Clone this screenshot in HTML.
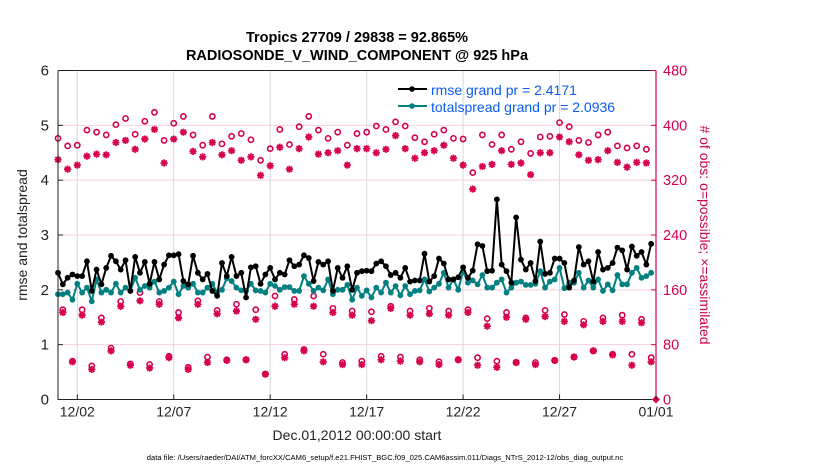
<!DOCTYPE html>
<html><head><meta charset="utf-8">
<style>
html,body{margin:0;padding:0;background:#fff;}
svg{display:block;font-family:"Liberation Sans",Arial,sans-serif;}
</style></head>
<body>
<svg id="chart" width="830" height="470" viewBox="0 0 830 470" xmlns="http://www.w3.org/2000/svg">
  <text x="357" y="42" text-anchor="middle" font-size="14.5" font-weight="bold" fill="#000">Tropics 27709 / 29838 = 92.865%</text>
  <text x="357" y="60" text-anchor="middle" font-size="14.5" font-weight="bold" fill="#000">RADIOSONDE_V_WIND_COMPONENT @ 925 hPa</text>
  <g id="grid"></g>
  <g id="marks"></g>
  <g id="axes"></g>
  <text transform="translate(27,235) rotate(-90)" text-anchor="middle" font-size="14" fill="#222">rmse and totalspread</text>
  <text transform="translate(700,235) rotate(90)" text-anchor="middle" font-size="14" fill="#d0004f"># of obs: o=possible; ×=assimilated</text>
  <text x="357" y="440" text-anchor="middle" font-size="14" fill="#222">Dec.01,2012 00:00:00 start</text>
  <text x="385" y="460" text-anchor="middle" font-size="7.6" fill="#000">data file: /Users/raeder/DAI/ATM_forcXX/CAM6_setup/f.e21.FHIST_BGC.f09_025.CAM6assim.011/Diags_NTrS_2012-12/obs_diag_output.nc</text>
  <g>
    <g>
      <line x1="398" y1="89" x2="427" y2="89" stroke="#000" stroke-width="2"/>
      <circle cx="412" cy="89" r="2.8" fill="#000"/>
      <text x="431" y="95" font-size="14" fill="#0a5cf0">rmse grand pr = 2.4171</text>
    </g>
    <g>
      <line x1="398" y1="106" x2="427" y2="106" stroke="#008080" stroke-width="2"/>
      <circle cx="412" cy="106" r="2.8" fill="#008080"/>
      <text x="431" y="112" font-size="14" fill="#0a5cf0">totalspread grand pr = 2.0936</text>
    </g>
  </g>
</svg>
<script>
const rmse = [2.31,2.1,2.22,2.28,2.25,2.25,2.52,1.98,2.37,2.1,2.4,2.62,2.52,2.37,2.54,1.98,2.6,2.31,2.51,2.11,2.51,2.19,2.46,2.63,2.63,2.65,2.16,2.1,2.62,2.31,2.19,2.29,1.98,1.89,2.49,2.25,2.6,2.25,2.31,1.86,2.41,2.43,2.11,2.28,2.4,2.19,2.31,2.28,2.54,2.43,2.46,2.63,2.58,2.16,2.51,2.46,2.52,1.98,2.4,2.22,2.43,
2.0,2.31,2.34,2.35,2.34,2.48,2.52,2.43,2.27,2.31,2.22,2.4,2.15,2.17,2.17,2.66,2.15,2.25,2.57,2.48,2.19,2.19,2.23,2.41,2.22,2.35,2.83,2.8,2.34,2.35,3.65,2.46,2.34,2.13,3.32,2.55,2.37,2.49,2.16,2.88,2.29,2.31,2.57,2.57,2.49,2.04,2.17,2.78,2.46,2.52,2.15,2.69,2.37,2.4,2.49,2.77,2.72,2.37,2.79,2.62,2.69,2.46,2.84];
const spread = [1.92,1.92,1.95,1.82,2.11,1.95,2.04,1.79,2.19,1.95,2.0,1.95,2.11,1.95,2.04,1.98,2.22,2.0,2.07,2.04,2.15,1.95,1.98,2.04,2.15,1.92,2.07,2.04,2.11,1.95,1.95,2.04,2.11,1.95,2.0,2.21,2.16,2.04,1.99,1.98,2.11,1.99,1.98,1.95,2.11,2.07,2.0,2.05,2.05,1.98,1.98,2.25,2.11,1.98,2.04,1.99,2.19,1.92,2.0,2.0,2.09,
1.82,2.04,1.89,1.99,1.86,2.04,1.95,2.13,1.95,2.07,1.9,2.07,1.92,1.98,1.99,2.19,1.97,2.04,2.11,2.31,2.04,2.19,2.0,2.34,2.13,2.17,2.1,2.27,2.04,2.04,2.13,2.19,1.95,2.04,2.13,2.15,2.09,2.09,2.11,2.34,2.04,2.15,2.19,2.4,2.03,2.13,2.13,2.31,2.04,2.17,2.04,2.19,1.98,2.1,1.99,2.27,2.1,2.1,2.31,2.4,2.22,2.25,2.31];
const topPossible = [381,370,371,393,390,386,401,410,387,406,419,378,403,413,386,371,413,373,384,388,379,349,366,394,372,398,413,393,381,390,371,
388,390,399,394,405,399,382,376,387,393,381,380,331,386,372,386,365,376,359,383,384,404,398,378,375,386,390,370,367,370,365];
const topAssim = [350,336,342,355,358,357,375,378,365,380,394,345,380,390,362,354,375,357,363,349,354,327,341,368,336,366,383,358,360,363,342,
366,366,360,365,385,366,352,360,363,371,352,342,307,340,343,363,343,345,328,360,360,383,376,357,349,350,363,346,339,346,345];
const midPossible = [131,131,119,143,156,143,127,144,130,139,131,151,146,151,133,129,128,136,129,133,129,131,118,127,119,130,124,114,119,123,117];
const midAssim = [127,123,113,136,144,139,119,139,125,129,117,136,139,136,127,123,115,133,123,125,123,127,107,120,117,121,114,109,114,114,112];
const lowPossible = [56,49,75,52,51,63,47,62,58,58,37,66,73,66,54,56,63,62,58,55,58,61,56,54,54,57,62,71,66,66,61];
const lowAssim = [55,44,71,50,46,61,44,54,57,58,37,61,71,55,51,51,58,56,55,51,58,50,47,54,51,57,62,71,65,50,55];
const endCount = [0];
const xTickLabels = ["12/02","12/07","12/12","12/17","12/22","12/27","01/01"];
const xTickDays = [1,6,11,16,21,26,31];
const yLeftTicks = [0,1,2,3,4,5,6];
const yRightTicks = [0,80,160,240,320,400,480];

const NS="http://www.w3.org/2000/svg";
const L=58, R=656, T=70.5, B=399.5;
const xDay = d => L + d/31*(R-L);
const yLeft = v => B - v/6*(B-T);
const yRight = v => B - v/480*(B-T);
function mk(tag, attrs, parent){const e=document.createElementNS(NS,tag);for(const k in attrs)e.setAttribute(k,attrs[k]);parent.appendChild(e);return e;}
const grid=document.getElementById('grid'), marks=document.getElementById('marks'), axes=document.getElementById('axes');
const RED="#d6004f";

yLeftTicks.forEach(v=>{ if(v>0&&v<6){ const g=mk('line',{x1:L,x2:R,y1:yLeft(v),y2:yLeft(v),stroke:"#f7cfdc","stroke-width":1},grid);
 }});
xTickDays.forEach(d=>{ if(d<31){ const g=mk('line',{x1:xDay(d),x2:xDay(d),y1:T,y2:B,stroke:"#d8d8d8","stroke-width":1},grid);
 }});

function circle(x,y){const c=mk('circle',{cx:x,cy:y,r:2.6,fill:"none",stroke:RED,"stroke-width":1.6},marks);
 }
function star(x,y){const s=3.6,d=2.6;const g=mk('path',{d:`M${x-s} ${y}H${x+s}M${x} ${y-s}V${y+s}M${x-d} ${y-d}L${x+d} ${y+d}M${x-d} ${y+d}L${x+d} ${y-d}`,stroke:RED,"stroke-width":1.8,fill:"none"},marks);
 }
topPossible.forEach((v,i)=>circle(xDay(i*0.5),yRight(v)));
topAssim.forEach((v,i)=>star(xDay(i*0.5),yRight(v)));
midPossible.forEach((v,i)=>circle(xDay(i+0.25),yRight(v)));
midAssim.forEach((v,i)=>star(xDay(i+0.25),yRight(v)));
lowPossible.forEach((v,i)=>circle(xDay(i+0.75),yRight(v)));
lowAssim.forEach((v,i)=>star(xDay(i+0.75),yRight(v)));
endCount.forEach(v=>{const d=mk('path',{d:`M${R-4} ${yRight(v)}L${R} ${yRight(v)-4}L${R+4} ${yRight(v)}L${R} ${yRight(v)+4}Z`,fill:RED},marks);
 });

function series(arr,color,name){
  const pts=arr.map((v,i)=>`${xDay(i*0.25).toFixed(2)},${yLeft(v).toFixed(2)}`).join(' ');
  const pl=mk('polyline',{points:pts,fill:"none",stroke:color,"stroke-width":2,"stroke-linejoin":"round"},marks);
   
  arr.forEach((v,i)=>{const c=mk('circle',{cx:xDay(i*0.25),cy:yLeft(v),r:2.9,fill:color},marks);
   });
}
series(spread,"#008080","totalspread");
series(rmse,"#000","rmse");

const ax=mk('path',{d:`M${L} ${T}V${B}H${R}`,stroke:"#222","stroke-width":1,fill:"none"},axes);
 
const tp=mk('line',{x1:L,x2:R,y1:T,y2:T,stroke:"#222","stroke-width":1},axes);
 
const ra=mk('line',{x1:R,x2:R,y1:T,y2:B,stroke:RED,"stroke-width":1.2},axes);
 
yLeftTicks.forEach(v=>{
  mk('line',{x1:L,x2:L+5,y1:yLeft(v),y2:yLeft(v),stroke:"#222"},axes);
  const t=mk('text',{x:L-9,y:yLeft(v)+5,"text-anchor":"end","font-size":15,fill:"#222"},axes);
  t.textContent=v;
   
});
yRightTicks.forEach(v=>{
  mk('line',{x1:R-5,x2:R,y1:yRight(v),y2:yRight(v),stroke:RED},axes);
  const t=mk('text',{x:R+7,y:yRight(v)+5,"font-size":14.5,fill:RED},axes);
  t.textContent=v;
   
});
xTickDays.forEach((d,i)=>{
  mk('line',{x1:xDay(d),x2:xDay(d),y1:B,y2:B-5,stroke:"#222"},axes);
  const t=mk('text',{x:xDay(d),y:B+17,"text-anchor":"middle","font-size":14,fill:"#222"},axes);
  t.textContent=xTickLabels[i];
   
});
</script>
</body></html>
